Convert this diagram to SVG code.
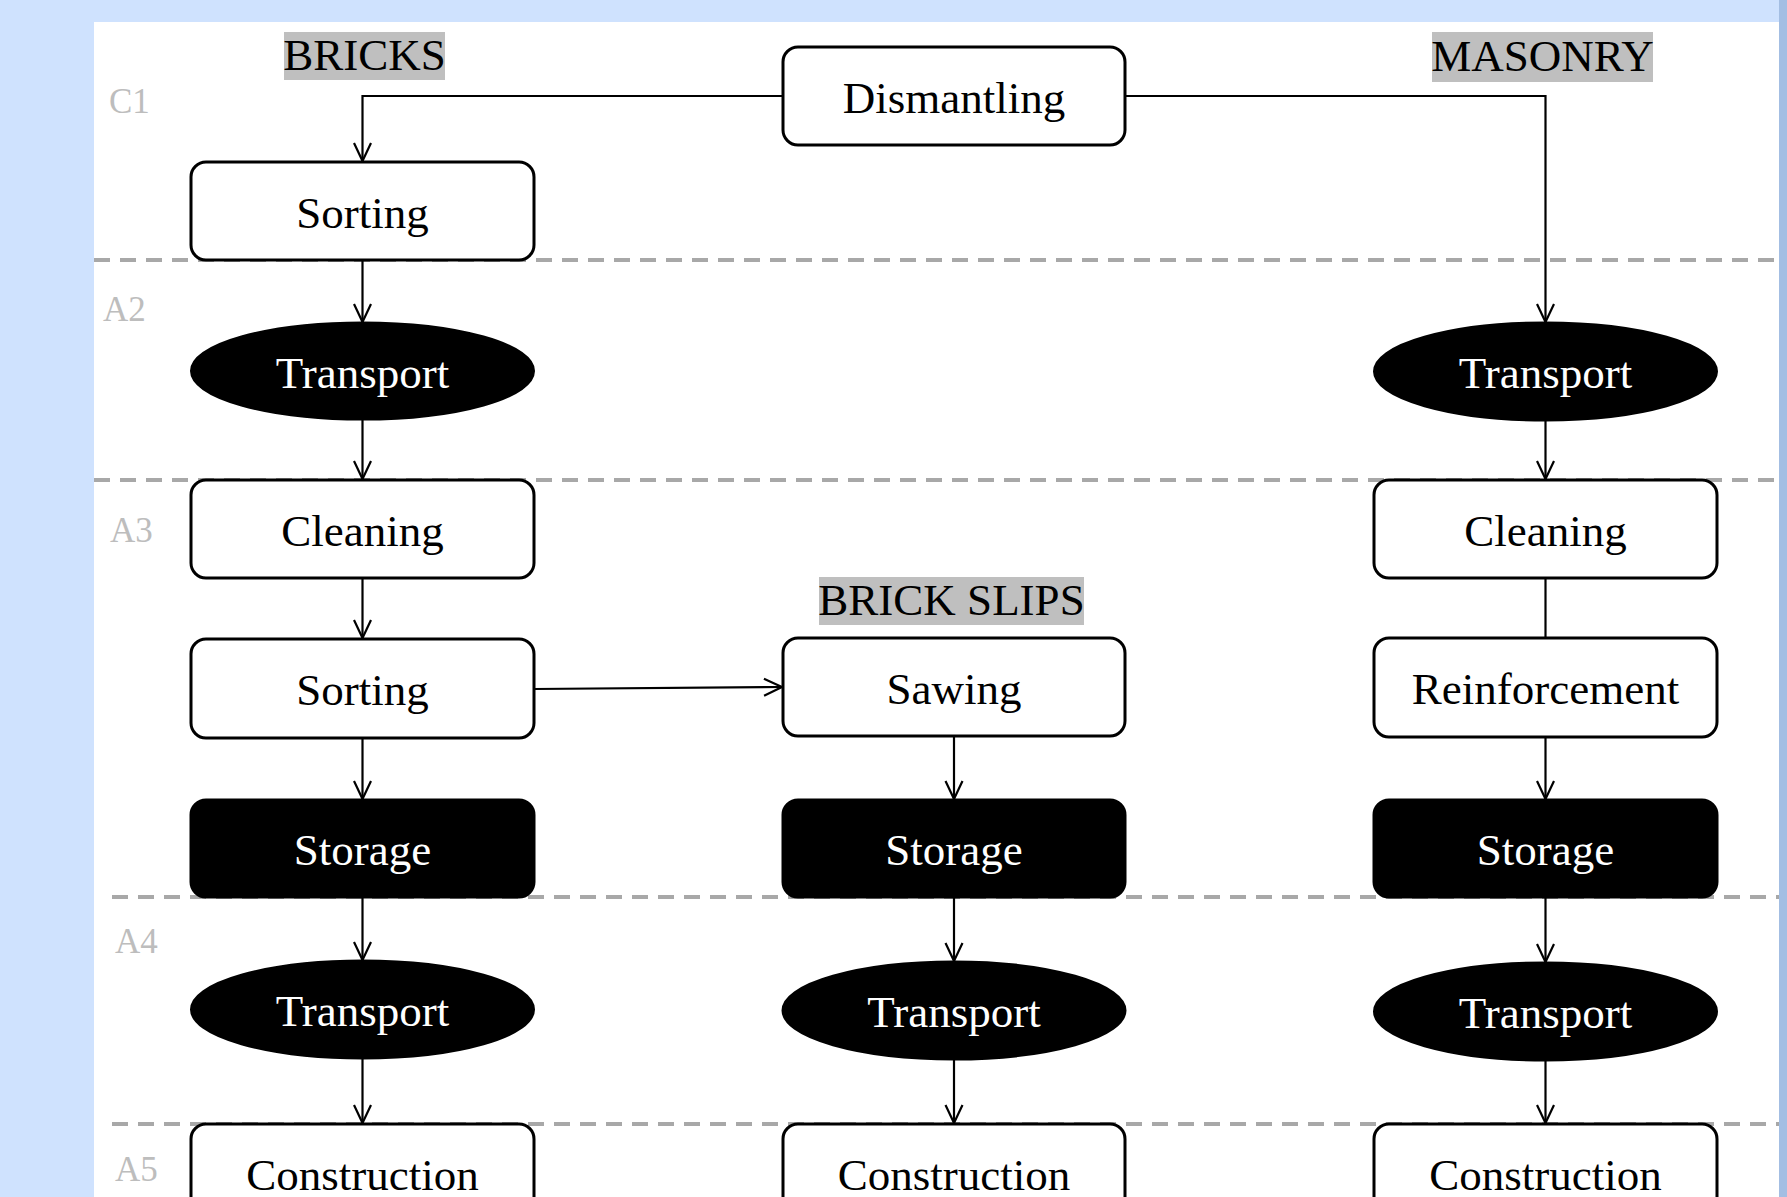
<svg xmlns="http://www.w3.org/2000/svg" width="1787" height="1197" viewBox="0 0 1787 1197">
<defs>
<style>
.bg{fill:#cfe2fe}
.strip{fill:#a3bee3}
.panel{fill:#ffffff}
.lane{stroke:#a8a8a8;stroke-width:4;stroke-dasharray:16 10;fill:none}
.lanelbl{font-family:"Liberation Serif",serif;font-size:35px;fill:#bdbdbd}
.box{fill:#ffffff;stroke:#000;stroke-width:3}
.dark{fill:#000;stroke:#000;stroke-width:3}
.t{font-family:"Liberation Serif",serif;font-size:45px;text-anchor:middle;fill:#000}
.tw{font-family:"Liberation Serif",serif;font-size:45px;text-anchor:middle;fill:#fff}
.tag{fill:#bfbfbf}
.conn{stroke:#000;stroke-width:2.2;fill:none}
</style>
<marker id="arr" markerUnits="userSpaceOnUse" markerWidth="22" markerHeight="22" refX="20" refY="10" orient="auto">
<path d="M2,1.5 L20,10 L2,18.5" fill="none" stroke="#000" stroke-width="2.2"/>
</marker>
</defs>
<rect class="bg" x="0" y="0" width="1787" height="1197"/>
<rect class="strip" x="1779" y="0" width="8" height="1197"/>
<rect class="panel" x="94" y="22" width="1685" height="1175"/>

<g id="lanes">
<line class="lane" x1="94" y1="260" x2="1779" y2="260"/>
<line class="lane" x1="94" y1="480" x2="1779" y2="480"/>
<line class="lane" x1="112" y1="897" x2="1779" y2="897"/>
<line class="lane" x1="112" y1="1124" x2="1779" y2="1124"/>
<text class="lanelbl" x="109" y="113">C1</text>
<text class="lanelbl" x="103" y="321">A2</text>
<text class="lanelbl" x="110" y="542">A3</text>
<text class="lanelbl" x="115" y="953">A4</text>
<text class="lanelbl" x="115" y="1181">A5</text>
</g>

<g id="labels">
<rect class="tag" x="284" y="32" width="161" height="48"/>
<text class="t" x="364.5" y="70">BRICKS</text>
<rect class="tag" x="1432" y="32" width="221" height="50"/>
<text class="t" x="1542.5" y="71">MASONRY</text>
<rect class="tag" x="819" y="577" width="265" height="48"/>
<text class="t" x="951.5" y="615">BRICK SLIPS</text>
</g>

<g id="connectors">
<path class="conn" d="M783,96 H362.5 V161" marker-end="url(#arr)"/>
<path class="conn" d="M1125,96 H1545.5 V322" marker-end="url(#arr)"/>
<path class="conn" d="M362.5,260 V322" marker-end="url(#arr)"/>
<path class="conn" d="M362.5,419 V479" marker-end="url(#arr)"/>
<path class="conn" d="M362.5,578 V638" marker-end="url(#arr)"/>
<path class="conn" d="M534,689 L782,687" marker-end="url(#arr)"/>
<path class="conn" d="M362.5,738 V799" marker-end="url(#arr)"/>
<path class="conn" d="M362.5,897 V960" marker-end="url(#arr)"/>
<path class="conn" d="M362.5,1058 V1123" marker-end="url(#arr)"/>
<path class="conn" d="M954,736 V799" marker-end="url(#arr)"/>
<path class="conn" d="M954,897 V961" marker-end="url(#arr)"/>
<path class="conn" d="M954,1059 V1123" marker-end="url(#arr)"/>
<path class="conn" d="M1545.5,420 V479" marker-end="url(#arr)"/>
<path class="conn" d="M1545.5,578 V638"/>
<path class="conn" d="M1545.5,737 V799" marker-end="url(#arr)"/>
<path class="conn" d="M1545.5,897 V962" marker-end="url(#arr)"/>
<path class="conn" d="M1545.5,1060 V1123" marker-end="url(#arr)"/>
</g>

<g id="dismantling"><rect class="box" x="783" y="47" width="342" height="98" rx="15"/><text class="t" x="954" y="113">Dismantling</text></g>
<g id="sorting-1"><rect class="box" x="191" y="162" width="343" height="98" rx="15"/><text class="t" x="362.5" y="228">Sorting</text></g>
<g id="transport-bricks-a2"><ellipse class="dark" cx="362.5" cy="371" rx="171" ry="48"/><text class="tw" x="362.5" y="388">Transport</text></g>
<g id="transport-masonry-a2"><ellipse class="dark" cx="1545.5" cy="371.5" rx="171" ry="48.5"/><text class="tw" x="1545.5" y="388">Transport</text></g>
<g id="cleaning-bricks"><rect class="box" x="191" y="480" width="343" height="98" rx="15"/><text class="t" x="362.5" y="546">Cleaning</text></g>
<g id="cleaning-masonry"><rect class="box" x="1374" y="480" width="343" height="98" rx="15"/><text class="t" x="1545.5" y="546">Cleaning</text></g>
<g id="sorting-2"><rect class="box" x="191" y="639" width="343" height="99" rx="15"/><text class="t" x="362.5" y="705">Sorting</text></g>
<g id="sawing"><rect class="box" x="783" y="638" width="342" height="98" rx="15"/><text class="t" x="954" y="704">Sawing</text></g>
<g id="reinforcement"><rect class="box" x="1374" y="638" width="343" height="99" rx="15"/><text class="t" x="1545.5" y="704">Reinforcement</text></g>
<g id="storage-bricks"><rect class="dark" x="191" y="800" width="343" height="97" rx="15"/><text class="tw" x="362.5" y="865">Storage</text></g>
<g id="storage-slips"><rect class="dark" x="783" y="800" width="342" height="97" rx="15"/><text class="tw" x="954" y="865">Storage</text></g>
<g id="storage-masonry"><rect class="dark" x="1374" y="800" width="343" height="97" rx="15"/><text class="tw" x="1545.5" y="865">Storage</text></g>
<g id="transport-bricks-a4"><ellipse class="dark" cx="362.5" cy="1009.5" rx="171" ry="48.5"/><text class="tw" x="362.5" y="1026">Transport</text></g>
<g id="transport-slips-a4"><ellipse class="dark" cx="954" cy="1010.5" rx="171" ry="48.5"/><text class="tw" x="954" y="1027">Transport</text></g>
<g id="transport-masonry-a4"><ellipse class="dark" cx="1545.5" cy="1011.5" rx="171" ry="48.5"/><text class="tw" x="1545.5" y="1028">Transport</text></g>
<g id="construction-bricks"><rect class="box" x="191" y="1124" width="343" height="110" rx="15"/><text class="t" x="362.5" y="1190">Construction</text></g>
<g id="construction-slips"><rect class="box" x="783" y="1124" width="342" height="110" rx="15"/><text class="t" x="954" y="1190">Construction</text></g>
<g id="construction-masonry"><rect class="box" x="1374" y="1124" width="343" height="110" rx="15"/><text class="t" x="1545.5" y="1190">Construction</text></g>
</svg>
